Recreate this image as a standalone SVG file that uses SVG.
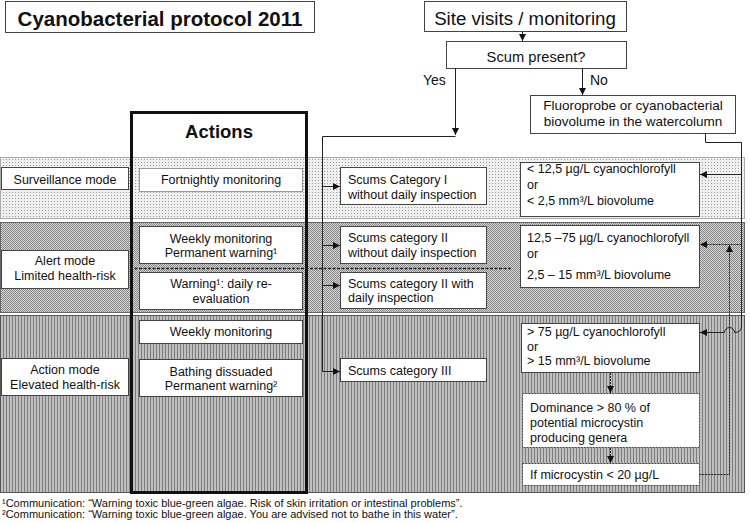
<svg xmlns="http://www.w3.org/2000/svg" width="750" height="523" viewBox="0 0 750 523">
<style>
text{font-family:"Liberation Sans",Arial,sans-serif;fill:#111;}
.t{font-size:12.5px;}
.c{text-anchor:middle;}
.box{fill:#fff;stroke:#444;stroke-width:1;}
.lbox{fill:#fff;stroke:#999;stroke-width:1;}
.dbox{fill:#fff;stroke:#444;stroke-width:1;stroke-dasharray:2,1;}
.ln{fill:none;stroke:#222;stroke-width:1;}
.dl{fill:none;stroke:#222;stroke-width:1;stroke-dasharray:2,1;}
</style>
<defs>
<pattern id="pDots" width="3" height="3" patternUnits="userSpaceOnUse"><rect width="3" height="3" fill="#efefef"/><rect width="1" height="1" fill="#9a9a9a"/></pattern>
<pattern id="pCheck" width="2" height="2" patternUnits="userSpaceOnUse"><rect width="2" height="2" fill="#d4d4d4"/><rect width="1" height="1" fill="#8a8a8a"/><rect x="1" y="1" width="1" height="1" fill="#8a8a8a"/></pattern>
<pattern id="pStripe" width="3" height="3" patternUnits="userSpaceOnUse"><rect width="3" height="3" fill="#c0c0c0"/><rect width="1" height="3" fill="#7c7c7c"/></pattern>
<marker id="ah" viewBox="0 0 8 8" refX="8" refY="4" markerWidth="7" markerHeight="7" markerUnits="userSpaceOnUse" orient="auto"><path d="M0,0 L8,4 L0,8 z" fill="#111"/></marker>
</defs>
<rect width="750" height="523" fill="#fff"/>

<g id="bands">
<rect x="0.5" y="157.5" width="744" height="61" fill="url(#pDots)" stroke="#aaa"/>
<rect x="0.5" y="222.5" width="744" height="90" fill="url(#pCheck)" stroke="#666"/>
<rect x="0.5" y="315.5" width="744" height="177" fill="url(#pStripe)" stroke="#555"/>
</g>

<g id="title"><rect x="5.5" y="1.5" width="309" height="31" fill="#fff" stroke="#444"/>
<text x="160" y="25.5" class="c" style="font-size:20.5px;font-weight:bold">Cyanobacterial protocol 2011</text></g>

<g id="site"><rect x="424.5" y="1.5" width="202" height="30" class="box"/>
<text x="525" y="24.5" class="c" style="font-size:18.7px">Site visits / monitoring</text></g>

<g id="scum"><rect x="446.5" y="41.5" width="180" height="27" class="box"/>
<text x="536" y="61.5" class="c" style="font-size:14.7px">Scum present?</text></g>

<g id="fluoro"><rect x="530.5" y="95.5" width="205" height="38" class="box"/>
<text x="633" y="110" class="c" style="font-size:13.5px">Fluoroprobe or cyanobacterial</text>
<text x="633" y="126" class="c" style="font-size:13.5px">biovolume in the watercolumn</text></g>

<g id="actions"><rect x="131.5" y="112.5" width="175" height="380" fill="none" stroke="#111" stroke-width="3"/>
<text x="219" y="138" class="c" style="font-size:18.5px;font-weight:bold">Actions</text></g>

<g id="surveillance"><rect x="1.5" y="167.5" width="127" height="22" class="box"/>
<text x="65" y="183.5" class="t c">Surveillance mode</text></g>
<g id="alert"><rect x="1.5" y="250.5" width="127" height="38" class="box"/>
<text x="65" y="265" class="t c">Alert mode</text><text x="65" y="280" class="t c">Limited health-risk</text></g>
<g id="actionmode"><rect x="1.5" y="358.5" width="127" height="37" class="box"/>
<text x="65" y="374" class="t c">Action mode</text><text x="65" y="388.5" class="t c">Elevated health-risk</text></g>

<g id="fortnightly"><rect x="139.5" y="168.5" width="163" height="23" class="lbox"/>
<text x="221" y="184" class="t c">Fortnightly monitoring</text></g>
<g id="weekly1"><rect x="139.5" y="226.5" width="163" height="37" class="box"/>
<text x="221" y="243" class="t c">Weekly monitoring</text><text x="221" y="257" class="t c">Permanent warning¹</text></g>
<g id="warning"><rect x="139.5" y="272.5" width="163" height="37" class="box"/>
<text x="221" y="288" class="t c">Warning¹: daily re-</text><text x="221" y="302.5" class="t c">evaluation</text></g>
<g id="weekly2"><rect x="139.5" y="320.5" width="163" height="23" class="box"/>
<text x="221" y="336" class="t c">Weekly monitoring</text></g>
<g id="bathing"><rect x="139.5" y="359.5" width="163" height="37" class="box"/>
<text x="221" y="376" class="t c">Bathing dissuaded</text><text x="221" y="390" class="t c">Permanent warning²</text></g>

<g id="scums1"><rect x="340.5" y="167.5" width="146" height="37" class="box"/>
<text x="348" y="184" class="t">Scums Category I</text><text x="348" y="199" class="t">without daily inspection</text></g>
<g id="scums2"><rect x="340.5" y="226.5" width="146" height="37" class="box"/>
<text x="348" y="242" class="t">Scums category II</text><text x="348" y="257" class="t">without daily inspection</text></g>
<g id="scums2d"><rect x="340.5" y="272.5" width="146" height="36" class="box"/>
<text x="348" y="288" class="t">Scums category II with</text><text x="348" y="302" class="t">daily inspection</text></g>
<g id="scums3"><rect x="340.5" y="358.5" width="146" height="23" class="box"/>
<text x="348" y="375" class="t">Scums category III</text></g>

<g id="low"><rect x="520.5" y="162.5" width="179" height="54" class="box"/>
<text x="527" y="172.5" class="t">&lt; 12,5 µg/L cyanochlorofyll</text><text x="527" y="188.5" class="t">or</text><text x="527" y="204.5" class="t">&lt; 2,5 mm³/L biovolume</text></g>
<g id="mid"><rect x="520.5" y="225.5" width="179" height="62" class="box"/>
<text x="527" y="242" class="t">12,5 –75 µg/L cyanochlorofyll</text><text x="527" y="258" class="t">or</text><text x="527" y="279" class="t">2,5 – 15 mm³/L biovolume</text></g>
<g id="high"><rect x="521.5" y="323.5" width="178" height="49" class="box"/>
<text x="527" y="336" class="t">&gt; 75 µg/L cyanochlorofyll</text><text x="527" y="350.5" class="t">or</text><text x="527" y="365" class="t">&gt; 15 mm³/L biovolume</text></g>
<g id="dominance"><rect x="522.5" y="393.5" width="177" height="54" class="dbox"/>
<text x="530" y="411.5" class="t">Dominance &gt; 80 % of</text><text x="530" y="426.5" class="t">potential microcystin</text><text x="530" y="441.5" class="t">producing genera</text></g>
<g id="microcystin"><rect x="522.5" y="463.5" width="177" height="22" class="dbox"/>
<text x="530" y="478.5" class="t">If microcystin &lt; 20 µg/L</text></g>

<path d="M130,268.5 H511" fill="none" stroke="#222" stroke-width="1.5" stroke-dasharray="3,1.5"/>

<g id="connectors">
<path class="ln" d="M522.5,32 V41" marker-end="url(#ah)"/>
<path class="ln" d="M455.5,68 V135" marker-end="url(#ah)"/>
<path class="ln" d="M582.5,68 V95" marker-end="url(#ah)"/>
<path class="ln" d="M455.5,136.5 H322.5 V371.5 H340" marker-end="url(#ah)"/>
<path class="ln" d="M322.5,186.5 H340" marker-end="url(#ah)"/>
<path class="ln" d="M322.5,245.5 H340" marker-end="url(#ah)"/>
<path class="ln" d="M322.5,285.5 H340" marker-end="url(#ah)"/>
<path class="ln" d="M705.5,133 V142.5 H741.5 V326 Q741.5,332.5 735,332.5 H734.5 A5,5 0 0 0 724.5,332.5 H700" marker-end="url(#ah)"/>
<path class="ln" d="M741.5,174.5 H700" marker-end="url(#ah)"/>
<path class="dl" d="M741.5,244.5 H700" marker-end="url(#ah)"/>
<path class="dl" d="M699.5,474.5 H729.5 V245" marker-end="url(#ah)"/>
<path class="dl" d="M610.5,373 V393" marker-end="url(#ah)"/>
<path class="dl" d="M610.5,448 V463" marker-end="url(#ah)"/>
</g>

<g id="footnotes">
<text x="2" y="506.5" style="font-size:11px">¹Communication: “Warning toxic blue-green algae. Risk of skin irritation or intestinal problems”.</text>
<text x="2" y="517.5" style="font-size:11px">²Communication: “Warning toxic blue-green algae. You are advised not to bathe in this water”.</text>
</g>
<text x="423" y="85" style="font-size:14px">Yes</text>
<text x="590" y="85" style="font-size:14px">No</text>
</svg>
